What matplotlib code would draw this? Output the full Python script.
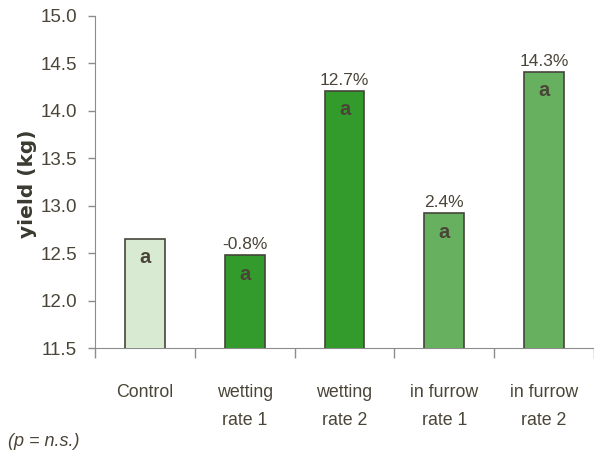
import numpy as np
import matplotlib
matplotlib.use('Agg')
import matplotlib.pyplot as plt

categories = ['Control', 'wetting\nrate 1', 'wetting\nrate 2', 'in furrow\nrate 1', 'in furrow\nrate 2']
yields = [12.65, 12.48, 14.21, 12.92, 14.41]
pct = ['', '-0.8%', '12.7%', '2.4%', '14.3%']
letters = ['a', 'a', 'a', 'a', 'a']
colors = ['#d9ead3', '#339a2c', '#339a2c', '#66b05f', '#66b05f']

txt = '#4a4538'
narrow = ['Liberation Sans', 'DejaVu Sans']

f = plt.figure(figsize=(5.94, 4.57), dpi=100)
ax = f.add_axes([0.16, 0.2385, 0.84, 0.7265])

x = np.arange(len(categories))
ax.bar(x, yields, width=0.4, color=colors, edgecolor='#45453a', linewidth=1.2, zorder=3)

for i in range(len(x)):
    ax.text(x[i], yields[i] - 0.1, letters[i], ha='center', va='top',
            fontsize=14.5, fontweight='bold', color=txt, family=narrow, zorder=4)
    if pct[i]:
        ax.text(x[i], yields[i] + 0.03, pct[i], ha='center', va='bottom',
                fontsize=12.5, color=txt, family=narrow)

ax.set_xlim(-0.5, 4.5)
ax.set_ylim(11.5, 15.0)
ax.set_yticks(np.arange(11.5, 15.01, 0.5))
ax.set_yticklabels(['%.1f' % v for v in np.arange(11.5, 15.01, 0.5)],
                   fontsize=13.5, color=txt, family=narrow)
ax.set_xticks(np.arange(-0.5, 4.6, 1.0))
ax.set_xticklabels([])
ax.tick_params(axis='y', length=5, width=1, color='#8c8c8c', pad=8)
ax.tick_params(axis='x', length=7, width=1, color='#8c8c8c')
for i in range(len(x)):
    ax.text(x[i], 11.5 - 0.38, categories[i], ha='center', va='top',
            fontsize=12.8, color=txt, family=narrow, linespacing=1.85)

for s in ['top', 'right']:
    ax.spines[s].set_visible(False)
ax.spines['left'].set_color('#8c8c8c')
ax.spines['bottom'].set_color('#8c8c8c')

ax.set_ylabel('yield (kg)', fontsize=14.5, fontweight='bold', color='#3a3a30',
              family=['DejaVu Sans'])
ax.yaxis.set_label_coords(-0.117, 0.494)

f.text(0.013, 0.025, '(p = n.s.)', fontsize=13, style='italic', color=txt, family=narrow)

plt.savefig('out.png', dpi=100)
